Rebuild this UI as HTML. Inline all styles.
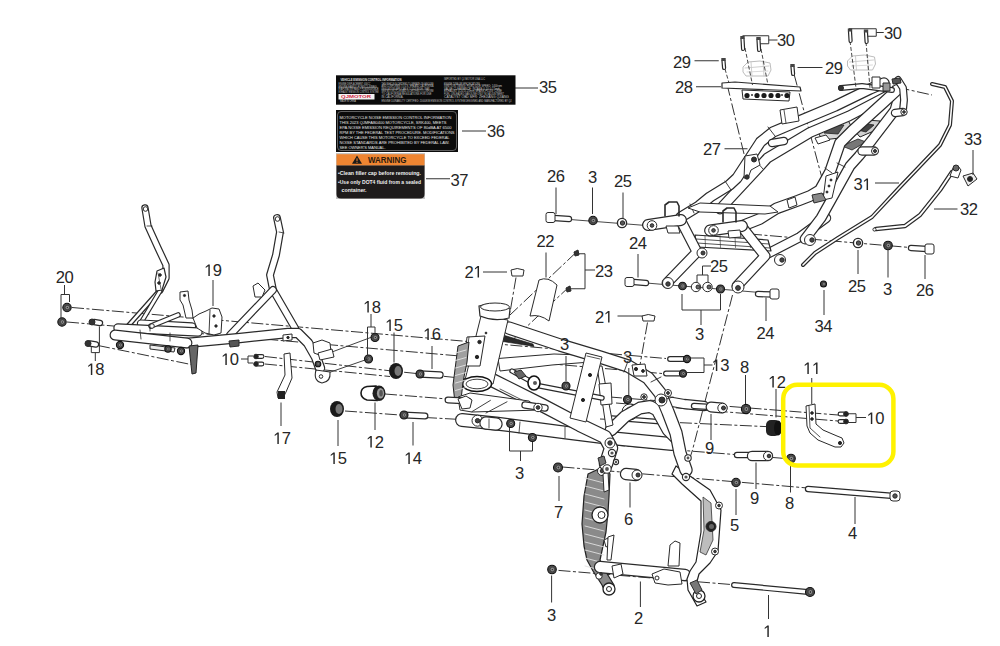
<!DOCTYPE html><html><head><meta charset="utf-8"><style>html,body{margin:0;padding:0;background:#fff;}svg{display:block}</style></head><body>
<svg width="1000" height="646" viewBox="0 0 1000 646">
<rect width="1000" height="646" fill="#fff"/>
<g fill="none" stroke="#333" stroke-width="1" stroke-dasharray="12 2.5 3 2.5">
<polyline points="72,307.5 666,358.5" fill="none" stroke="#333" stroke-width="1.0" />
<polyline points="67,322 662,373.5" fill="none" stroke="#333" stroke-width="1.0" />
<polyline points="98,345.5 191,364.5" fill="none" stroke="#333" stroke-width="1.0" />
<polyline points="265,356.5 392,371 470,379" fill="none" stroke="#333" stroke-width="1.0" />
<polyline points="265,364 390,376.5" fill="none" stroke="#333" stroke-width="1.0" />
<polyline points="385,394 460,400" fill="none" stroke="#333" stroke-width="1.0" />
<polyline points="345,411 400,415" fill="none" stroke="#333" stroke-width="1.0" />
<polyline points="425,417.5 470,420" fill="none" stroke="#333" stroke-width="1.0" />
<polyline points="516,277.5 510,312.5" fill="none" stroke="#333" stroke-width="1.0" />
<polyline points="576,252.5 510,315" fill="none" stroke="#333" stroke-width="1.0" />
<polyline points="570,286 512.5,340" fill="none" stroke="#333" stroke-width="1.0" />
<polyline points="647.5,322.5 640,365" fill="none" stroke="#333" stroke-width="1.0" />
<polyline points="732.5,295 692.5,450 686,470" fill="none" stroke="#333" stroke-width="1.0" />
<polyline points="610,397 838,415" fill="none" stroke="#333" stroke-width="1.0" />
<polyline points="616,403 838,421" fill="none" stroke="#333" stroke-width="1.0" />
<polyline points="600,419 766,426.6" fill="none" stroke="#333" stroke-width="1.0" />
<polyline points="613,445 792,459" fill="none" stroke="#333" stroke-width="1.0" />
<polyline points="562.5,467 807.5,488" fill="none" stroke="#333" stroke-width="1.0" />
<polyline points="558.5,570.4 731,584.5" fill="none" stroke="#333" stroke-width="1.0" />
<polyline points="750,234 910,247.5" fill="none" stroke="#333" stroke-width="1.0" />
<polyline points="878,83 932,95" fill="none" stroke="#333" stroke-width="1.0" />
<polyline points="727,84 745,158" fill="none" stroke="#333" stroke-width="1.0" />
<polyline points="794,74 822,178" fill="none" stroke="#333" stroke-width="1.0" />
</g>
<path d="M570,219.5 L646,225.5" fill="none" stroke="#333" stroke-width="0.9" stroke-linecap="round" stroke-linejoin="round"/>
<path d="M646,283 L760,292.5" fill="none" stroke="#333" stroke-width="0.9" stroke-linecap="round" stroke-linejoin="round"/>
<path d="M818,132 L830,122 L848,120 L852,128 L840,138 L822,140 Z" fill="#d8d8d8" stroke="#222" stroke-width="1" stroke-linejoin="round"/>
<path d="M824,133 L834,126 L844,125 L838,134 Z" fill="#555" stroke="#222" stroke-width="0.8" stroke-linejoin="round"/>
<path d="M852,128 L866,120 L880,121 L876,130 L860,137 Z" fill="#d0d0d0" stroke="#222" stroke-width="1" stroke-linejoin="round"/>
<path d="M858,130 L868,124 L874,125 L866,132 Z" fill="#444" stroke="#222" stroke-width="0.8" stroke-linejoin="round"/>
<path d="M842,146 L858,139 L866,142 L852,150 Z" fill="#777" stroke="#222" stroke-width="0.8" stroke-linejoin="round"/>
<path d="M765,255 L800,237 L826,218" fill="none" stroke="#2a2a2a" stroke-width="10.4" stroke-linecap="round" stroke-linejoin="round"/><path d="M765,255 L800,237 L826,218" fill="none" stroke="#fff" stroke-width="8" stroke-linecap="round" stroke-linejoin="round"/>
<path d="M805,239 L821,218 L835,193 L850,166 L859,156 L872,140 L895,110 L900,92" fill="none" stroke="#2a2a2a" stroke-width="10.9" stroke-linecap="round" stroke-linejoin="round"/><path d="M805,239 L821,218 L835,193 L850,166 L859,156 L872,140 L895,110 L900,92" fill="none" stroke="#fff" stroke-width="8.5" stroke-linecap="round" stroke-linejoin="round"/>
<path d="M720,209 L723,206 L759.7,166.5 L767.4,158 L810,132.5 L849,116 L891,94" fill="none" stroke="#2a2a2a" stroke-width="10.9" stroke-linecap="round" stroke-linejoin="round"/><path d="M720,209 L723,206 L759.7,166.5 L767.4,158 L810,132.5 L849,116 L891,94" fill="none" stroke="#fff" stroke-width="8.5" stroke-linecap="round" stroke-linejoin="round"/>
<path d="M681,217 L699,206 L710,197 L729.5,185 L737,178 L760.5,142 L773,132 L790.6,124.6 L835,106 L870,89 L884,83" fill="none" stroke="#2a2a2a" stroke-width="11.4" stroke-linecap="round" stroke-linejoin="round"/><path d="M681,217 L699,206 L710,197 L729.5,185 L737,178 L760.5,142 L773,132 L790.6,124.6 L835,106 L870,89 L884,83" fill="none" stroke="#fff" stroke-width="9" stroke-linecap="round" stroke-linejoin="round"/>
<path d="M772,143 L784,141" fill="none" stroke="#2a2a2a" stroke-width="8.4" stroke-linecap="round" stroke-linejoin="round"/><path d="M772,143 L784,141" fill="none" stroke="#fff" stroke-width="6" stroke-linecap="round" stroke-linejoin="round"/>
<path d="M742,226 L759.7,219 L776.7,208.3 L798.4,200.5 L810,196 L820,190 L830,172 L840,143 L852,131 L884,102 L897,90" fill="none" stroke="#2a2a2a" stroke-width="11.9" stroke-linecap="round" stroke-linejoin="round"/><path d="M742,226 L759.7,219 L776.7,208.3 L798.4,200.5 L810,196 L820,190 L830,172 L840,143 L852,131 L884,102 L897,90" fill="none" stroke="#fff" stroke-width="9.5" stroke-linecap="round" stroke-linejoin="round"/>
<path d="M898,80 L903,88 L904,100 L903,110" fill="none" stroke="#2a2a2a" stroke-width="7.9" stroke-linecap="round" stroke-linejoin="round"/><path d="M898,80 L903,88 L904,100 L903,110" fill="none" stroke="#fff" stroke-width="5.5" stroke-linecap="round" stroke-linejoin="round"/>
<path d="M725,181 L731,190" fill="none" stroke="#2a2a2a" stroke-width="0.9" stroke-linecap="round" stroke-linejoin="round"/>
<path d="M768,127 L775,136" fill="none" stroke="#2a2a2a" stroke-width="0.9" stroke-linecap="round" stroke-linejoin="round"/>
<path d="M756,161 L763,169" fill="none" stroke="#2a2a2a" stroke-width="0.9" stroke-linecap="round" stroke-linejoin="round"/>
<path d="M832,173 L825,168" fill="none" stroke="#2a2a2a" stroke-width="0.9" stroke-linecap="round" stroke-linejoin="round"/>
<path d="M837,163 L845,167" fill="none" stroke="#2a2a2a" stroke-width="0.9" stroke-linecap="round" stroke-linejoin="round"/>
<path d="M690,204 L694,213" fill="none" stroke="#2a2a2a" stroke-width="0.9" stroke-linecap="round" stroke-linejoin="round"/>
<path d="M688,208 L700,203 L770,206 L778,212 L765,214 L700,212 Z" fill="#fff" stroke="#2a2a2a" stroke-width="1" stroke-linejoin="round"/>
<path d="M695,235 L768,240 L771,251 L697,247 Z" fill="#fff" stroke="#2a2a2a" stroke-width="1.2" stroke-linejoin="round"/>
<path d="M696,239 L769,244" fill="none" stroke="#2a2a2a" stroke-width="0.8" stroke-linecap="round" stroke-linejoin="round"/><path d="M697,243 L770,248" fill="none" stroke="#2a2a2a" stroke-width="0.8" stroke-linecap="round" stroke-linejoin="round"/>
<path d="M705,236 L705.5,247.5" fill="none" stroke="#2a2a2a" stroke-width="0.6" stroke-linecap="round" stroke-linejoin="round"/>
<path d="M720,236 L720.5,247.5" fill="none" stroke="#2a2a2a" stroke-width="0.6" stroke-linecap="round" stroke-linejoin="round"/>
<path d="M735,236 L735.5,247.5" fill="none" stroke="#2a2a2a" stroke-width="0.6" stroke-linecap="round" stroke-linejoin="round"/>
<path d="M750,236 L750.5,247.5" fill="none" stroke="#2a2a2a" stroke-width="0.6" stroke-linecap="round" stroke-linejoin="round"/>
<path d="M681,221 L697,252 L667,283" fill="none" stroke="#2a2a2a" stroke-width="10.9" stroke-linecap="round" stroke-linejoin="round"/><path d="M681,221 L697,252 L667,283" fill="none" stroke="#fff" stroke-width="8.5" stroke-linecap="round" stroke-linejoin="round"/>
<path d="M742,227 L765,256 L737,286" fill="none" stroke="#2a2a2a" stroke-width="10.9" stroke-linecap="round" stroke-linejoin="round"/><path d="M742,227 L765,256 L737,286" fill="none" stroke="#fff" stroke-width="8.5" stroke-linecap="round" stroke-linejoin="round"/>
<path d="M648,225 L681,220" fill="none" stroke="#2a2a2a" stroke-width="11.9" stroke-linecap="round" stroke-linejoin="round"/><path d="M648,225 L681,220" fill="none" stroke="#fff" stroke-width="9.5" stroke-linecap="round" stroke-linejoin="round"/>
<path d="M710,230.5 L742,226" fill="none" stroke="#2a2a2a" stroke-width="11.9" stroke-linecap="round" stroke-linejoin="round"/><path d="M710,230.5 L742,226" fill="none" stroke="#fff" stroke-width="9.5" stroke-linecap="round" stroke-linejoin="round"/>
<circle cx="652" cy="225.5" r="4.8" fill="#fff" stroke="#2a2a2a" stroke-width="1"/><circle cx="652" cy="225.5" r="1.8" fill="#555" stroke="#2a2a2a" stroke-width="1"/>
<circle cx="713.5" cy="230.4" r="4.8" fill="#fff" stroke="#2a2a2a" stroke-width="1"/><circle cx="713.5" cy="230.4" r="1.8" fill="#555" stroke="#2a2a2a" stroke-width="1"/>
<path d="M666,226 L678,226 L680,233 L668,233 Z" fill="#fff" stroke="#2a2a2a" stroke-width="1" stroke-linejoin="round"/>
<path d="M728,231 L740,230 L741,237 L729,238 Z" fill="#fff" stroke="#2a2a2a" stroke-width="1" stroke-linejoin="round"/>
<path d="M665,216 L665,205 L669,202 L677,202 L679,206 L679,216" fill="none" stroke="#2a2a2a" stroke-width="1.6" stroke-linecap="round" stroke-linejoin="round"/>
<path d="M723,222 L723,211 L727,208 L734,208 L736,212 L736,222" fill="none" stroke="#2a2a2a" stroke-width="1.6" stroke-linecap="round" stroke-linejoin="round"/>
<circle cx="702" cy="253" r="5" fill="#fff" stroke="#2a2a2a" stroke-width="1"/><circle cx="703" cy="253" r="2" fill="#444" stroke="#2a2a2a" stroke-width="1"/>
<circle cx="780" cy="260" r="5.5" fill="#fff" stroke="#2a2a2a" stroke-width="1"/><circle cx="782" cy="260" r="2.2" fill="#444" stroke="#2a2a2a" stroke-width="1"/>
<circle cx="668" cy="283" r="5.5" fill="#fff" stroke="#2a2a2a" stroke-width="1"/><circle cx="668" cy="284" r="2.2" fill="#444" stroke="#2a2a2a" stroke-width="1"/>
<circle cx="738" cy="287" r="6" fill="#fff" stroke="#2a2a2a" stroke-width="1"/><circle cx="738" cy="288" r="2.4" fill="#444" stroke="#2a2a2a" stroke-width="1"/>
<circle cx="810" cy="240" r="5.5" fill="#fff" stroke="#2a2a2a" stroke-width="1"/><circle cx="812" cy="240" r="2.2" fill="#444" stroke="#2a2a2a" stroke-width="1"/>
<path d="M862,151 L874,151" fill="none" stroke="#2a2a2a" stroke-width="9.4" stroke-linecap="round" stroke-linejoin="round"/><path d="M862,151 L874,151" fill="none" stroke="#fff" stroke-width="7" stroke-linecap="round" stroke-linejoin="round"/><circle cx="875" cy="151" r="3.5" fill="#fff" stroke="#2a2a2a" stroke-width="1"/><circle cx="875" cy="151" r="1.5" fill="#444" stroke="#2a2a2a" stroke-width="1"/>
<path d="M895,113 L903,112" fill="none" stroke="#2a2a2a" stroke-width="8.4" stroke-linecap="round" stroke-linejoin="round"/><path d="M895,113 L903,112" fill="none" stroke="#fff" stroke-width="6" stroke-linecap="round" stroke-linejoin="round"/><circle cx="904" cy="112" r="3.2" fill="#fff" stroke="#2a2a2a" stroke-width="1"/><circle cx="904" cy="112" r="1.3" fill="#444" stroke="#2a2a2a" stroke-width="1"/>
<path d="M780,110 L797,107 L799,121 L782,124 Z" fill="#fff" stroke="#2a2a2a" stroke-width="1" stroke-linejoin="round"/>
<path d="M784,110 L786,123" fill="none" stroke="#2a2a2a" stroke-width="0.8" stroke-linecap="round" stroke-linejoin="round"/>
<path d="M745,156 L757,154 L760,165 L751,170 L748,178 L744,178 Z" fill="#fff" stroke="#2a2a2a" stroke-width="1" stroke-linejoin="round"/>
<circle cx="754" cy="159.5" r="2.5" fill="#333" stroke="#2a2a2a" stroke-width="1"/>
<circle cx="747" cy="177" r="2.2" fill="#333" stroke="#2a2a2a" stroke-width="1"/>
<path d="M815,138 L826,135 L830,140 L818,144 Z" fill="#fff" stroke="#2a2a2a" stroke-width="1" stroke-linejoin="round"/>
<path d="M787,200 L795,197 L797,205 L789,208 Z" fill="#fff" stroke="#2a2a2a" stroke-width="1" stroke-linejoin="round"/>
<path d="M841,88 L862,86 L892,90" fill="none" stroke="#2a2a2a" stroke-width="5.9" stroke-linecap="round" stroke-linejoin="round"/><path d="M841,88 L862,86 L892,90" fill="none" stroke="#fff" stroke-width="3.5" stroke-linecap="round" stroke-linejoin="round"/>
<circle cx="841" cy="88" r="2.5" fill="#333" stroke="#2a2a2a" stroke-width="1"/>
<path d="M872,77 L880,77 L880,88 L872,88 Z" fill="#fff" stroke="#2a2a2a" stroke-width="1" stroke-linejoin="round"/>
<path d="M892,79 L900,78 L901,83 L893,84 Z" fill="#555" stroke="#2a2a2a" stroke-width="1" stroke-linejoin="round"/>
<path d="M883,83 L890,83 L890,91 L883,91 Z" fill="#999" stroke="#2a2a2a" stroke-width="1" stroke-linejoin="round"/>
<path d="M826,176 L838,172 L832,198 L823,200 Z" fill="#fff" stroke="#2a2a2a" stroke-width="1" stroke-linejoin="round"/>
<circle cx="831" cy="180" r="1" fill="#222" stroke="#2a2a2a" stroke-width="1"/><circle cx="829" cy="186" r="1" fill="#222" stroke="#2a2a2a" stroke-width="1"/><circle cx="827" cy="192" r="1" fill="#222" stroke="#2a2a2a" stroke-width="1"/>
<path d="M812,195 L822,193 L826,200 L814,203 Z" fill="#888" stroke="#2a2a2a" stroke-width="1" stroke-linejoin="round"/>
<path d="M722,83 L735,82 L800,87 L801,91 L722,88 Z" fill="#fff" stroke="#2a2a2a" stroke-width="1.2" stroke-linejoin="round"/>
<path d="M742,90 L790,92 L789,101 L743,99 Z" fill="#fff" stroke="#2a2a2a" stroke-width="1" stroke-linejoin="round"/>
<circle cx="747" cy="95.5" r="2.6" fill="#1a1a1a" stroke="none" stroke-width="0"/>
<circle cx="757" cy="95.5" r="2.6" fill="#1a1a1a" stroke="none" stroke-width="0"/>
<circle cx="764" cy="95.5" r="2.6" fill="#1a1a1a" stroke="none" stroke-width="0"/>
<circle cx="771" cy="95.5" r="2.6" fill="#1a1a1a" stroke="none" stroke-width="0"/>
<circle cx="778" cy="95.5" r="2.6" fill="#1a1a1a" stroke="none" stroke-width="0"/>
<circle cx="787" cy="95.5" r="2.6" fill="#1a1a1a" stroke="none" stroke-width="0"/>
<circle cx="752" cy="95" r="1" fill="#333" stroke="none" stroke-width="0"/>
<circle cx="782" cy="95" r="1" fill="#333" stroke="none" stroke-width="0"/>
<path d="M743,67 L748,62 L760,61 L770,63 L771,70 L768,76 L746,76 L743,72 Z" fill="#fff" stroke="#bdbdbd" stroke-width="1" stroke-linejoin="round"/>
<path d="M745,68 L769,66" fill="none" stroke="#c8c8c8" stroke-width="0.9" stroke-linecap="round" stroke-linejoin="round"/>
<path d="M751,62 L752,76" fill="none" stroke="#c8c8c8" stroke-width="0.9" stroke-linecap="round" stroke-linejoin="round"/>
<path d="M763,61 L764,76" fill="none" stroke="#c8c8c8" stroke-width="0.9" stroke-linecap="round" stroke-linejoin="round"/>
<path d="M747,72 L768,71" fill="none" stroke="#d0d0d0" stroke-width="0.8" stroke-linecap="round" stroke-linejoin="round"/>
<path d="M847.5,61 L852.5,56 L864.5,55 L874.5,57 L875.5,64 L872.5,70 L850.5,70 L847.5,66 Z" fill="#fff" stroke="#bdbdbd" stroke-width="1" stroke-linejoin="round"/>
<path d="M849.5,62 L873.5,60" fill="none" stroke="#c8c8c8" stroke-width="0.9" stroke-linecap="round" stroke-linejoin="round"/>
<path d="M855.5,56 L856.5,70" fill="none" stroke="#c8c8c8" stroke-width="0.9" stroke-linecap="round" stroke-linejoin="round"/>
<path d="M867.5,55 L868.5,70" fill="none" stroke="#c8c8c8" stroke-width="0.9" stroke-linecap="round" stroke-linejoin="round"/>
<path d="M851.5,66 L872.5,65" fill="none" stroke="#d0d0d0" stroke-width="0.8" stroke-linecap="round" stroke-linejoin="round"/>
<path d="M745,48 L752.5,85" fill="none" stroke="#333" stroke-width="0.9" stroke-dasharray="4 2"/>
<path d="M761,49 L768,85" fill="none" stroke="#333" stroke-width="0.9" stroke-dasharray="4 2"/>
<path d="M850,41 L856,88" fill="none" stroke="#333" stroke-width="0.9" stroke-dasharray="4 2"/>
<path d="M866,42 L870,88" fill="none" stroke="#333" stroke-width="0.9" stroke-dasharray="4 2"/>
<path d="M725,69 L729,83" fill="none" stroke="#333" stroke-width="0.9" stroke-dasharray="4 2"/>
<path d="M723.5,61 L724.1,68" fill="none" stroke="#2a2a2a" stroke-width="4.2" stroke-linecap="round" stroke-linejoin="round"/><path d="M723.5,61 L724.1,68" fill="none" stroke="#fff" stroke-width="1.8" stroke-linecap="round" stroke-linejoin="round"/>
<rect x="721.3" y="58" width="4.4" height="3" fill="#444"/>
<path d="M792.5,67 L793.1,74" fill="none" stroke="#2a2a2a" stroke-width="4.2" stroke-linecap="round" stroke-linejoin="round"/><path d="M792.5,67 L793.1,74" fill="none" stroke="#fff" stroke-width="1.8" stroke-linecap="round" stroke-linejoin="round"/>
<rect x="790.3" y="64" width="4.4" height="3" fill="#444"/>
<path d="M742.5,39 L743.1,49" fill="none" stroke="#2a2a2a" stroke-width="4.2" stroke-linecap="round" stroke-linejoin="round"/><path d="M742.5,39 L743.1,49" fill="none" stroke="#fff" stroke-width="1.8" stroke-linecap="round" stroke-linejoin="round"/>
<rect x="740.3" y="36" width="4.4" height="3" fill="#444"/>
<path d="M758.5,40 L759.1,50" fill="none" stroke="#2a2a2a" stroke-width="4.2" stroke-linecap="round" stroke-linejoin="round"/><path d="M758.5,40 L759.1,50" fill="none" stroke="#fff" stroke-width="1.8" stroke-linecap="round" stroke-linejoin="round"/>
<rect x="756.3" y="37" width="4.4" height="3" fill="#444"/>
<path d="M850,31.5 L850.6,41.0" fill="none" stroke="#2a2a2a" stroke-width="4.2" stroke-linecap="round" stroke-linejoin="round"/><path d="M850,31.5 L850.6,41.0" fill="none" stroke="#fff" stroke-width="1.8" stroke-linecap="round" stroke-linejoin="round"/>
<rect x="847.8" y="28.5" width="4.4" height="3" fill="#444"/>
<path d="M866,32.5 L866.6,42.0" fill="none" stroke="#2a2a2a" stroke-width="4.2" stroke-linecap="round" stroke-linejoin="round"/><path d="M866,32.5 L866.6,42.0" fill="none" stroke="#fff" stroke-width="1.8" stroke-linecap="round" stroke-linejoin="round"/>
<rect x="863.8" y="29.5" width="4.4" height="3" fill="#444"/>
<path d="M932,84 L945,87 L952,101 L950,125 L940,145 L920,166 L899,188 L872,217 L838,238 L815,253 L803,265" fill="none" stroke="#2a2a2a" stroke-width="4.0" stroke-linecap="round" stroke-linejoin="round"/><path d="M932,84 L945,87 L952,101 L950,125 L940,145 L920,166 L899,188 L872,217 L838,238 L815,253 L803,265" fill="none" stroke="#fff" stroke-width="1.6" stroke-linecap="round" stroke-linejoin="round"/>
<path d="M876,229 L905,226 L920,215 L940,190 L952,172" fill="none" stroke="#2a2a2a" stroke-width="4.4" stroke-linecap="round" stroke-linejoin="round"/><path d="M876,229 L905,226 L920,215 L940,190 L952,172" fill="none" stroke="#fff" stroke-width="2" stroke-linecap="round" stroke-linejoin="round"/>
<circle cx="874.5" cy="229.5" r="1.6" fill="#fff" stroke="#2a2a2a" stroke-width="1"/>
<path d="M950,176 L953,168 L958,166 L961,170 L958,178 Z" fill="#fff" stroke="#2a2a2a" stroke-width="1" stroke-linejoin="round"/>
<circle cx="956" cy="168" r="3" fill="#666" stroke="#2a2a2a" stroke-width="1"/>
<path d="M963,176 L973,173 L977,179 L968,186 Z" fill="#eee" stroke="#2a2a2a" stroke-width="1" stroke-linejoin="round"/>
<circle cx="970" cy="179" r="2.5" fill="#222" stroke="#2a2a2a" stroke-width="1"/>
<circle cx="858" cy="243" r="4.6" fill="#fff" stroke="#2a2a2a" stroke-width="1.4"/><circle cx="858.5" cy="243" r="2.2" fill="#555" stroke="#2a2a2a" stroke-width="1"/>
<circle cx="888" cy="245.5" r="4.3" fill="#4a4a4a" stroke="#111" stroke-width="1.1"/><circle cx="888.4" cy="245.5" r="2.15" fill="#9a9a9a" stroke="#222" stroke-width="0.5"/><circle cx="888.4" cy="245.5" r="0.86" fill="#333" stroke="none" stroke-width="0"/>
<path d="M911,248 L927,249" fill="none" stroke="#2a2a2a" stroke-width="6.4" stroke-linecap="round" stroke-linejoin="round"/><path d="M911,248 L927,249" fill="none" stroke="#fff" stroke-width="4" stroke-linecap="round" stroke-linejoin="round"/><rect x="925" y="244" width="9" height="10" rx="2" fill="#fff" stroke="#2a2a2a"/>
<circle cx="823.5" cy="284" r="3" fill="#4a4a4a" stroke="#111" stroke-width="1.1"/><circle cx="823.9" cy="284" r="1.5" fill="#9a9a9a" stroke="#222" stroke-width="0.5"/><circle cx="823.9" cy="284" r="0.6000000000000001" fill="#333" stroke="none" stroke-width="0"/>
<path d="M554,218 L569,219" fill="none" stroke="#2a2a2a" stroke-width="6.4" stroke-linecap="round" stroke-linejoin="round"/><path d="M554,218 L569,219" fill="none" stroke="#fff" stroke-width="4" stroke-linecap="round" stroke-linejoin="round"/><rect x="546" y="212.5" width="9" height="10" rx="2" fill="#fff" stroke="#2a2a2a"/>
<circle cx="593" cy="220.5" r="4.2" fill="#4a4a4a" stroke="#111" stroke-width="1.1"/><circle cx="593.4" cy="220.5" r="2.1" fill="#9a9a9a" stroke="#222" stroke-width="0.5"/><circle cx="593.4" cy="220.5" r="0.8400000000000001" fill="#333" stroke="none" stroke-width="0"/>
<circle cx="622" cy="223" r="4.6" fill="#fff" stroke="#2a2a2a" stroke-width="1.4"/><circle cx="622.5" cy="223" r="2.2" fill="#555" stroke="#2a2a2a" stroke-width="1"/>
<path d="M634,282 L646,283" fill="none" stroke="#2a2a2a" stroke-width="6.4" stroke-linecap="round" stroke-linejoin="round"/><path d="M634,282 L646,283" fill="none" stroke="#fff" stroke-width="4" stroke-linecap="round" stroke-linejoin="round"/><rect x="625" y="277.5" width="9" height="9" rx="2" fill="#fff" stroke="#2a2a2a"/>
<circle cx="682.5" cy="286" r="3.8" fill="#4a4a4a" stroke="#111" stroke-width="1.1"/><circle cx="682.9" cy="286" r="1.9" fill="#9a9a9a" stroke="#222" stroke-width="0.5"/><circle cx="682.9" cy="286" r="0.76" fill="#333" stroke="none" stroke-width="0"/>
<circle cx="696" cy="287" r="4.7" fill="#fff" stroke="#2a2a2a" stroke-width="1"/><circle cx="698" cy="287" r="2" fill="#666" stroke="#2a2a2a" stroke-width="1"/>
<circle cx="707.5" cy="287" r="4.7" fill="#fff" stroke="#2a2a2a" stroke-width="1"/><circle cx="709" cy="287" r="2" fill="#666" stroke="#2a2a2a" stroke-width="1"/>
<circle cx="720.5" cy="289" r="4" fill="#4a4a4a" stroke="#111" stroke-width="1.1"/><circle cx="720.9" cy="289" r="2.0" fill="#9a9a9a" stroke="#222" stroke-width="0.5"/><circle cx="720.9" cy="289" r="0.8" fill="#333" stroke="none" stroke-width="0"/>
<path d="M758,294 L773,294.5" fill="none" stroke="#2a2a2a" stroke-width="6.4" stroke-linecap="round" stroke-linejoin="round"/><path d="M758,294 L773,294.5" fill="none" stroke="#fff" stroke-width="4" stroke-linecap="round" stroke-linejoin="round"/><rect x="770" y="289" width="9" height="10" rx="2" fill="#fff" stroke="#2a2a2a"/>
<path d="M462,420 L496,423.5 L566,432.6 L610,438 L672,444" fill="none" stroke="#2a2a2a" stroke-width="13.9" stroke-linecap="round" stroke-linejoin="round"/><path d="M462,420 L496,423.5 L566,432.6 L610,438 L672,444" fill="none" stroke="#fff" stroke-width="11.5" stroke-linecap="round" stroke-linejoin="round"/>
<path d="M565,427 L565,438" fill="none" stroke="#2a2a2a" stroke-width="0.8" stroke-linecap="round" stroke-linejoin="round"/><path d="M520,422 L519,433" fill="none" stroke="#2a2a2a" stroke-width="0.8" stroke-linecap="round" stroke-linejoin="round"/>
<path d="M605,466 L588,474 L584,496 L582,524 L584,546 L587,560 L593,571 L602,585 L605,592 L612,592 L614,585 L606,572 L600,560 L603,546 L606,532 L608,512 L609,496 L610,474 Z" fill="#8a8a8a" stroke="#222" stroke-width="1.2" stroke-linejoin="round"/>
<path d="M585,478 L604,483" fill="none" stroke="#e0e0e0" stroke-width="0.9" stroke-linecap="round" stroke-linejoin="round"/>
<path d="M585,486 L604,491" fill="none" stroke="#e0e0e0" stroke-width="0.9" stroke-linecap="round" stroke-linejoin="round"/>
<path d="M585,494 L604,499" fill="none" stroke="#e0e0e0" stroke-width="0.9" stroke-linecap="round" stroke-linejoin="round"/>
<path d="M585,502 L604,507" fill="none" stroke="#e0e0e0" stroke-width="0.9" stroke-linecap="round" stroke-linejoin="round"/>
<path d="M585,510 L604,515" fill="none" stroke="#e0e0e0" stroke-width="0.9" stroke-linecap="round" stroke-linejoin="round"/>
<path d="M585,518 L604,523" fill="none" stroke="#e0e0e0" stroke-width="0.9" stroke-linecap="round" stroke-linejoin="round"/>
<path d="M585,526 L604,531" fill="none" stroke="#e0e0e0" stroke-width="0.9" stroke-linecap="round" stroke-linejoin="round"/>
<path d="M585,534 L604,539" fill="none" stroke="#e0e0e0" stroke-width="0.9" stroke-linecap="round" stroke-linejoin="round"/>
<path d="M585,542 L604,547" fill="none" stroke="#e0e0e0" stroke-width="0.9" stroke-linecap="round" stroke-linejoin="round"/>
<path d="M585,550 L604,555" fill="none" stroke="#e0e0e0" stroke-width="0.9" stroke-linecap="round" stroke-linejoin="round"/>
<path d="M585,558 L604,563" fill="none" stroke="#e0e0e0" stroke-width="0.9" stroke-linecap="round" stroke-linejoin="round"/>
<path d="M585,566 L604,571" fill="none" stroke="#e0e0e0" stroke-width="0.9" stroke-linecap="round" stroke-linejoin="round"/>
<circle cx="600" cy="515" r="8" fill="#fff" stroke="#222" stroke-width="1.3"/><circle cx="601.5" cy="515" r="3.5" fill="#fff" stroke="#222" stroke-width="1"/>
<circle cx="602" cy="471" r="4.5" fill="#fff" stroke="#2a2a2a" stroke-width="1"/><circle cx="602" cy="471" r="1.8" fill="#444" stroke="#2a2a2a" stroke-width="1"/>
<circle cx="609" cy="589" r="6" fill="#fff" stroke="#222" stroke-width="1.3"/><circle cx="609" cy="589" r="2.5" fill="#fff" stroke="#222" stroke-width="1"/>
<path d="M603,474 L608,472 L609,490 L604,492 Z" fill="#fff" stroke="#2a2a2a" stroke-width="1" stroke-linejoin="round"/>
<path d="M604,540 L608,538 L610,545 L606,547 Z" fill="#fff" stroke="#2a2a2a" stroke-width="1" stroke-linejoin="round"/>
<path d="M608,537 L614,535 L611,560 L607,560 Z" fill="#fff" stroke="#2a2a2a" stroke-width="1" stroke-linejoin="round"/>
<path d="M600,567 L685,575" fill="none" stroke="#2a2a2a" stroke-width="12.4" stroke-linecap="round" stroke-linejoin="round"/><path d="M600,567 L685,575" fill="none" stroke="#fff" stroke-width="10" stroke-linecap="round" stroke-linejoin="round"/>
<path d="M676,466 L690,476 L710,490 L721,510 L718,551 L710,563 L699,574 L696,585 L706,602 L697,606 L688,590 L687,579 L690,571 L696,562 L701,532 L701,501 L682,484 L672,474 Z" fill="#fff" stroke="#222" stroke-width="1.2" stroke-linejoin="round"/>
<path d="M703,497 L711,503 L713,540 L706,555 L700,552 L704,530 Z" fill="#bdbdbd" stroke="#333" stroke-width="0.8" stroke-linejoin="round"/>
<circle cx="719" cy="505.5" r="3.5" fill="#fff" stroke="#2a2a2a" stroke-width="1"/><circle cx="719" cy="505.5" r="1.3" fill="#444" stroke="#2a2a2a" stroke-width="1"/>
<circle cx="711" cy="526.5" r="5" fill="#222" stroke="#2a2a2a" stroke-width="1"/><circle cx="711.5" cy="526.5" r="2.5" fill="#666" stroke="none" stroke-width="1"/>
<circle cx="715" cy="551.5" r="3.5" fill="#fff" stroke="#2a2a2a" stroke-width="1"/><circle cx="715" cy="551.5" r="1.3" fill="#444" stroke="#2a2a2a" stroke-width="1"/>
<circle cx="699" cy="596" r="6" fill="#fff" stroke="#222" stroke-width="1.3"/><circle cx="699" cy="596" r="2.5" fill="#fff" stroke="#222" stroke-width="1"/>
<path d="M690,583 L697,580 L702,590 L696,594 Z" fill="#777" stroke="#2a2a2a" stroke-width="1" stroke-linejoin="round"/>
<path d="M652,574 L664,569 L680,572 L682,584 L668,585 L655,583 Z" fill="#fff" stroke="#2a2a2a" stroke-width="1" stroke-linejoin="round"/>
<circle cx="657" cy="578" r="2" fill="#fff" stroke="#2a2a2a" stroke-width="1"/>
<path d="M668,566 L670,545 L675,541 L680,543 L679,566 Z" fill="#fff" stroke="#2a2a2a" stroke-width="1" stroke-linejoin="round"/>
<path d="M612,566 L621,564 L623,574 L614,578 Z" fill="#fff" stroke="#2a2a2a" stroke-width="1" stroke-linejoin="round"/>
<circle cx="599" cy="576" r="3.2" fill="#fff" stroke="#2a2a2a" stroke-width="1"/><circle cx="601" cy="574" r="1.3" fill="#444" stroke="#2a2a2a" stroke-width="1"/>
<path d="M661,400 L684,404 L704,406" fill="none" stroke="#2a2a2a" stroke-width="10.4" stroke-linecap="round" stroke-linejoin="round"/><path d="M661,400 L684,404 L704,406" fill="none" stroke="#fff" stroke-width="8" stroke-linecap="round" stroke-linejoin="round"/>
<path d="M612,418 L676,423" fill="none" stroke="#2a2a2a" stroke-width="5.4" stroke-linecap="round" stroke-linejoin="round"/><path d="M612,418 L676,423" fill="none" stroke="#fff" stroke-width="3" stroke-linecap="round" stroke-linejoin="round"/>
<circle cx="630" cy="412" r="8" fill="#fff" stroke="#2a2a2a" stroke-width="1"/><circle cx="630" cy="412" r="5" fill="#fff" stroke="#555" stroke-width="0.8"/>
<path d="M611,430 L625,416.5 L640,408 L650,406.5 L657,410 L668,430 L677,439" fill="none" stroke="#2a2a2a" stroke-width="12.9" stroke-linecap="round" stroke-linejoin="round"/><path d="M611,430 L625,416.5 L640,408 L650,406.5 L657,410 L668,430 L677,439" fill="none" stroke="#fff" stroke-width="10.5" stroke-linecap="round" stroke-linejoin="round"/>
<circle cx="644" cy="397" r="3.2" fill="#fff" stroke="#2a2a2a" stroke-width="1"/><circle cx="644" cy="397" r="1.4" fill="#444" stroke="#2a2a2a" stroke-width="1"/>
<path d="M498,358.5 L554,354 L582,355 L587,359 L584,362.5 L552,365 L500,371 Z" fill="#fff" stroke="#2a2a2a" stroke-width="1" stroke-linejoin="round"/>
<path d="M597,366 L602,366 L613,425 L606,427 Z" fill="#fff" stroke="#2a2a2a" stroke-width="1" stroke-linejoin="round"/>
<path d="M599,384 L611,383 L612,404 L601,405 Z" fill="#fff" stroke="#2a2a2a" stroke-width="1" stroke-linejoin="round"/>
<path d="M512,371 L530,381" fill="none" stroke="#2a2a2a" stroke-width="5.4" stroke-linecap="round" stroke-linejoin="round"/><path d="M512,371 L530,381" fill="none" stroke="#fff" stroke-width="3" stroke-linecap="round" stroke-linejoin="round"/><path d="M540,386 L602,398" fill="none" stroke="#2a2a2a" stroke-width="5.4" stroke-linecap="round" stroke-linejoin="round"/><path d="M540,386 L602,398" fill="none" stroke="#fff" stroke-width="3" stroke-linecap="round" stroke-linejoin="round"/>
<ellipse cx="534" cy="383" rx="6" ry="7" fill="#fff" stroke="#111" stroke-width="1.6"/><circle cx="535" cy="383" r="2" fill="#555"/>
<path d="M514,372 L521,370 L526,376 L519,379 Z" fill="#666" stroke="#2a2a2a" stroke-width="1" stroke-linejoin="round"/>
<path d="M492,380 L542,405 L580,425 L605,437 L611,448 L606,464" fill="none" stroke="#2a2a2a" stroke-width="14.4" stroke-linecap="round" stroke-linejoin="round"/><path d="M492,380 L542,405 L580,425 L605,437 L611,448 L606,464" fill="none" stroke="#fff" stroke-width="12" stroke-linecap="round" stroke-linejoin="round"/>
<path d="M500,389 L540,409" fill="none" stroke="#2a2a2a" stroke-width="0.8" stroke-linecap="round" stroke-linejoin="round"/>
<path d="M509,328 L560,345 L600,357 L628,366 L648,378 L660,393 L668,412 L676,433 L680,453 L686,470" fill="none" stroke="#2a2a2a" stroke-width="13.4" stroke-linecap="round" stroke-linejoin="round"/><path d="M509,328 L560,345 L600,357 L628,366 L648,378 L660,393 L668,412 L676,433 L680,453 L686,470" fill="none" stroke="#fff" stroke-width="11" stroke-linecap="round" stroke-linejoin="round"/>
<path d="M628,361 L624,372" fill="none" stroke="#2a2a2a" stroke-width="0.9" stroke-linecap="round" stroke-linejoin="round"/><path d="M651,382 L661,377" fill="none" stroke="#2a2a2a" stroke-width="0.9" stroke-linecap="round" stroke-linejoin="round"/><path d="M663,400 L673,397" fill="none" stroke="#2a2a2a" stroke-width="0.9" stroke-linecap="round" stroke-linejoin="round"/>
<path d="M503,335 L533,344 L534,346.5 L503,341.5 Z" fill="#2a2a2a" stroke="#111" stroke-width="0.6" stroke-linejoin="round"/>
<path d="M586,353 L602,357 L586,422 L570,418 Z" fill="#fff" stroke="#2a2a2a" stroke-width="1" stroke-linejoin="round"/>
<circle cx="590" cy="375" r="1.6" fill="#222" stroke="#2a2a2a" stroke-width="1"/><circle cx="583" cy="400" r="1.6" fill="#222" stroke="#2a2a2a" stroke-width="1"/>
<path d="M587,356 L600,359" fill="none" stroke="#2a2a2a" stroke-width="0.8" stroke-linecap="round" stroke-linejoin="round"/>
<circle cx="610" cy="443" r="5" fill="#fff" stroke="#2a2a2a" stroke-width="1"/><circle cx="610" cy="443" r="2.2" fill="#444" stroke="#2a2a2a" stroke-width="1"/>
<circle cx="612" cy="453" r="3.6" fill="#fff" stroke="#2a2a2a" stroke-width="1.1"/><circle cx="612" cy="453" r="1.62" fill="#555" stroke="none" stroke-width="0"/>
<circle cx="607" cy="469" r="4.2" fill="#fff" stroke="#2a2a2a" stroke-width="1.1"/><circle cx="607" cy="469" r="1.8900000000000001" fill="#555" stroke="none" stroke-width="0"/>
<circle cx="688" cy="458" r="3.2" fill="#fff" stroke="#2a2a2a" stroke-width="1.1"/><circle cx="688" cy="458" r="1.4400000000000002" fill="#555" stroke="none" stroke-width="0"/>
<circle cx="686" cy="477" r="3.6" fill="#fff" stroke="#2a2a2a" stroke-width="1.1"/><circle cx="686" cy="477" r="1.62" fill="#555" stroke="none" stroke-width="0"/>
<circle cx="616" cy="462" r="2.6" fill="#fff" stroke="#2a2a2a" stroke-width="1.1"/><circle cx="616" cy="462" r="1.1700000000000002" fill="#555" stroke="none" stroke-width="0"/>
<path d="M598,458 L604,456 L606,463 L600,466 Z" fill="#777" stroke="#2a2a2a" stroke-width="1" stroke-linejoin="round"/>
<circle cx="661" cy="400" r="6" fill="#fff" stroke="#2a2a2a" stroke-width="1"/><circle cx="662" cy="400" r="3" fill="#333" stroke="#2a2a2a" stroke-width="1"/>
<circle cx="668" cy="393" r="3.5" fill="#fff" stroke="#2a2a2a" stroke-width="1"/><circle cx="668" cy="393" r="1.4" fill="#444" stroke="#2a2a2a" stroke-width="1"/>
<path d="M481,316 L508,320 L493,384 L465,380 Z" fill="#fff" stroke="#2a2a2a" stroke-width="1" stroke-linejoin="round"/>
<ellipse cx="477" cy="384" rx="14.5" ry="7.5" fill="#fff" stroke="#111" stroke-width="1.5"/>
<ellipse cx="477" cy="384" rx="11" ry="4.8" fill="#fff" stroke="#2a2a2a" stroke-width="0.9"/>
<path d="M479,306 Q494,301 510,309 L509,318 Q494,322 480,316 Z" fill="#fff" stroke="#2a2a2a" stroke-width="1.2"/>
<ellipse cx="495" cy="307" rx="14.5" ry="4" fill="#fff" stroke="#2a2a2a" stroke-width="1"/>
<circle cx="486" cy="333" r="0.9" fill="#222" stroke="#2a2a2a" stroke-width="1"/><circle cx="478" cy="359" r="0.9" fill="#222" stroke="#2a2a2a" stroke-width="1"/>
<path d="M467,337 L485,336 L480,366 L464,366 Z" fill="#fff" stroke="#2a2a2a" stroke-width="1" stroke-linejoin="round"/>
<path d="M469,337 L465,366" fill="none" stroke="#2a2a2a" stroke-width="0.8" stroke-linecap="round" stroke-linejoin="round"/>
<circle cx="479.5" cy="342" r="1.7" fill="#222" stroke="#2a2a2a" stroke-width="1"/><circle cx="477" cy="357" r="1.7" fill="#222" stroke="#2a2a2a" stroke-width="1"/>
<path d="M458,346 L469,342 L467,362 L463,382 L461,400 L455,403 L453,385 Z" fill="#a0a0a0" stroke="#222" stroke-width="1" stroke-linejoin="round"/>
<path d="M455.5,353.0 L466,350.0" fill="none" stroke="#eee" stroke-width="0.8" stroke-linecap="round" stroke-linejoin="round"/>
<path d="M455.5,360.5 L466,357.5" fill="none" stroke="#eee" stroke-width="0.8" stroke-linecap="round" stroke-linejoin="round"/>
<path d="M455.5,368.0 L466,365.0" fill="none" stroke="#eee" stroke-width="0.8" stroke-linecap="round" stroke-linejoin="round"/>
<path d="M455.5,375.5 L466,372.5" fill="none" stroke="#eee" stroke-width="0.8" stroke-linecap="round" stroke-linejoin="round"/>
<path d="M455.5,383.0 L466,380.0" fill="none" stroke="#eee" stroke-width="0.8" stroke-linecap="round" stroke-linejoin="round"/>
<path d="M455.5,390.5 L466,387.5" fill="none" stroke="#eee" stroke-width="0.8" stroke-linecap="round" stroke-linejoin="round"/>
<path d="M455.5,398.0 L466,395.0" fill="none" stroke="#eee" stroke-width="0.8" stroke-linecap="round" stroke-linejoin="round"/>
<path d="M458,397 L470,393 L529,401 L540,410 L472,412 L460,410 Z" fill="#fff" stroke="#2a2a2a" stroke-width="1" stroke-linejoin="round"/>
<path d="M472,411.6 L490.4,400.4" fill="none" stroke="#2a2a2a" stroke-width="0.9" stroke-linecap="round" stroke-linejoin="round"/><path d="M486,413 L507,401.8" fill="none" stroke="#2a2a2a" stroke-width="0.9" stroke-linecap="round" stroke-linejoin="round"/>
<path d="M448,400 L468,401" fill="none" stroke="#2a2a2a" stroke-width="6.9" stroke-linecap="round" stroke-linejoin="round"/><path d="M448,400 L468,401" fill="none" stroke="#fff" stroke-width="4.5" stroke-linecap="round" stroke-linejoin="round"/>
<path d="M458,399 L466,396 L472,400 L470,408 L462,409 Z" fill="#fff" stroke="#2a2a2a" stroke-width="1" stroke-linejoin="round"/>
<circle cx="477.5" cy="420.7" r="5.5" fill="#fff" stroke="#2a2a2a" stroke-width="1"/><circle cx="477.5" cy="420.7" r="2.2" fill="#444" stroke="#2a2a2a" stroke-width="1"/>
<path d="M486,423 L496,424" fill="none" stroke="#2a2a2a" stroke-width="13.4" stroke-linecap="round" stroke-linejoin="round"/><path d="M486,423 L496,424" fill="none" stroke="#fff" stroke-width="11" stroke-linecap="round" stroke-linejoin="round"/>
<path d="M489,419 L489,428" fill="none" stroke="#2a2a2a" stroke-width="0.8" stroke-linecap="round" stroke-linejoin="round"/>
<path d="M525,405 L545,408" fill="none" stroke="#2a2a2a" stroke-width="7.4" stroke-linecap="round" stroke-linejoin="round"/><path d="M525,405 L545,408" fill="none" stroke="#fff" stroke-width="5" stroke-linecap="round" stroke-linejoin="round"/>
<circle cx="538" cy="407.5" r="4.2" fill="#fff" stroke="#2a2a2a" stroke-width="1"/><circle cx="538" cy="407.5" r="1.8" fill="#444" stroke="#2a2a2a" stroke-width="1"/>
<circle cx="510.7" cy="423.5" r="4" fill="#4a4a4a" stroke="#111" stroke-width="1.1"/><circle cx="511.09999999999997" cy="423.5" r="2.0" fill="#9a9a9a" stroke="#222" stroke-width="0.5"/><circle cx="511.09999999999997" cy="423.5" r="0.8" fill="#333" stroke="none" stroke-width="0"/>
<circle cx="532.4" cy="437.5" r="4" fill="#4a4a4a" stroke="#111" stroke-width="1.1"/><circle cx="532.8" cy="437.5" r="2.0" fill="#9a9a9a" stroke="#222" stroke-width="0.5"/><circle cx="532.8" cy="437.5" r="0.8" fill="#333" stroke="none" stroke-width="0"/>
<circle cx="566" cy="386" r="4" fill="#4a4a4a" stroke="#111" stroke-width="1.1"/><circle cx="566.4" cy="386" r="2.0" fill="#9a9a9a" stroke="#222" stroke-width="0.5"/><circle cx="566.4" cy="386" r="0.8" fill="#333" stroke="none" stroke-width="0"/>
<circle cx="627.5" cy="399.5" r="4" fill="#4a4a4a" stroke="#111" stroke-width="1.1"/><circle cx="627.9" cy="399.5" r="2.0" fill="#9a9a9a" stroke="#222" stroke-width="0.5"/><circle cx="627.9" cy="399.5" r="0.8" fill="#333" stroke="none" stroke-width="0"/>
<path d="M574,252 L578,250 L579,255 L575,256 Z" fill="#333" stroke="#2a2a2a" stroke-width="1" stroke-linejoin="round"/><path d="M566,288 L570,286 L571,291 L567,292 Z" fill="#333" stroke="#2a2a2a" stroke-width="1" stroke-linejoin="round"/>
<path d="M539,280 Q548,276 557,285 L549,321 Q540,314 530,316 Z" fill="#fff" stroke="#2a2a2a" stroke-width="1"/>
<path d="M511,270 Q517,267 524,270 L523,276 L512,276 Z" fill="#fff" stroke="#2a2a2a"/>
<path d="M642,316 Q648,313 655,316 L654,321 L643,321 Z" fill="#fff" stroke="#2a2a2a"/>
<path d="M632,365 L645,364 L647,376 L634,376 Z" fill="#fff" stroke="#2a2a2a" stroke-width="1" stroke-linejoin="round"/>
<circle cx="636" cy="369" r="1.6" fill="#222" stroke="#2a2a2a" stroke-width="1"/><circle cx="643" cy="371" r="1.4" fill="#222" stroke="#2a2a2a" stroke-width="1"/>
<path d="M670,359 L685,359" fill="none" stroke="#2a2a2a" stroke-width="5.9" stroke-linecap="round" stroke-linejoin="round"/><path d="M670,359 L685,359" fill="none" stroke="#fff" stroke-width="3.5" stroke-linecap="round" stroke-linejoin="round"/><circle cx="687" cy="359" r="3.6" fill="#4a4a4a" stroke="#111" stroke-width="1.1"/><circle cx="687.4" cy="359" r="1.8" fill="#9a9a9a" stroke="#222" stroke-width="0.5"/><circle cx="687.4" cy="359" r="0.7200000000000001" fill="#333" stroke="none" stroke-width="0"/>
<path d="M666,373.5 L681,373.5" fill="none" stroke="#2a2a2a" stroke-width="5.9" stroke-linecap="round" stroke-linejoin="round"/><path d="M666,373.5 L681,373.5" fill="none" stroke="#fff" stroke-width="3.5" stroke-linecap="round" stroke-linejoin="round"/><circle cx="683" cy="373.5" r="3.6" fill="#4a4a4a" stroke="#111" stroke-width="1.1"/><circle cx="683.4" cy="373.5" r="1.8" fill="#9a9a9a" stroke="#222" stroke-width="0.5"/><circle cx="683.4" cy="373.5" r="0.7200000000000001" fill="#333" stroke="none" stroke-width="0"/>
<path d="M694,406 L711,407" fill="none" stroke="#2a2a2a" stroke-width="6.4" stroke-linecap="round" stroke-linejoin="round"/><path d="M694,406 L711,407" fill="none" stroke="#fff" stroke-width="4" stroke-linecap="round" stroke-linejoin="round"/>
<path d="M711,407 L722,408" fill="none" stroke="#2a2a2a" stroke-width="10.9" stroke-linecap="round" stroke-linejoin="round"/><path d="M711,407 L722,408" fill="none" stroke="#fff" stroke-width="8.5" stroke-linecap="round" stroke-linejoin="round"/>
<circle cx="722.5" cy="408" r="4.7" fill="#fff" stroke="#2a2a2a" stroke-width="1"/><circle cx="723.5" cy="408" r="2" fill="#444" stroke="#2a2a2a" stroke-width="1"/>
<circle cx="746" cy="409" r="4.6" fill="#4a4a4a" stroke="#111" stroke-width="1.1"/><circle cx="746.4" cy="409" r="2.3" fill="#9a9a9a" stroke="#222" stroke-width="0.5"/><circle cx="746.4" cy="409" r="0.9199999999999999" fill="#333" stroke="none" stroke-width="0"/>
<rect x="766" y="420" width="14" height="16" rx="5" fill="#222"/>
<ellipse cx="778" cy="428" rx="4" ry="7.5" fill="#111"/>
<path d="M737,455 L752,455" fill="none" stroke="#2a2a2a" stroke-width="6.4" stroke-linecap="round" stroke-linejoin="round"/><path d="M737,455 L752,455" fill="none" stroke="#fff" stroke-width="4" stroke-linecap="round" stroke-linejoin="round"/><path d="M752,456 L768,456" fill="none" stroke="#2a2a2a" stroke-width="10.4" stroke-linecap="round" stroke-linejoin="round"/><path d="M752,456 L768,456" fill="none" stroke="#fff" stroke-width="8" stroke-linecap="round" stroke-linejoin="round"/>
<circle cx="768" cy="456" r="4.5" fill="#fff" stroke="#2a2a2a" stroke-width="1"/><circle cx="769" cy="456" r="1.8" fill="#444" stroke="#2a2a2a" stroke-width="1"/>
<circle cx="791" cy="458.5" r="4.3" fill="#4a4a4a" stroke="#111" stroke-width="1.1"/><circle cx="791.4" cy="458.5" r="2.15" fill="#9a9a9a" stroke="#222" stroke-width="0.5"/><circle cx="791.4" cy="458.5" r="0.86" fill="#333" stroke="none" stroke-width="0"/>
<circle cx="736" cy="482.5" r="4.2" fill="#4a4a4a" stroke="#111" stroke-width="1.1"/><circle cx="736.4" cy="482.5" r="2.1" fill="#9a9a9a" stroke="#222" stroke-width="0.5"/><circle cx="736.4" cy="482.5" r="0.8400000000000001" fill="#333" stroke="none" stroke-width="0"/>
<circle cx="558" cy="467.5" r="4.5" fill="#4a4a4a" stroke="#111" stroke-width="1.1"/><circle cx="558.4" cy="467.5" r="2.25" fill="#9a9a9a" stroke="#222" stroke-width="0.5"/><circle cx="558.4" cy="467.5" r="0.9" fill="#333" stroke="none" stroke-width="0"/>
<path d="M626,474 L636,475" fill="none" stroke="#2a2a2a" stroke-width="12.4" stroke-linecap="round" stroke-linejoin="round"/><path d="M626,474 L636,475" fill="none" stroke="#fff" stroke-width="10" stroke-linecap="round" stroke-linejoin="round"/><circle cx="637" cy="475" r="5" fill="#fff" stroke="#2a2a2a" stroke-width="1"/><circle cx="638" cy="475" r="2" fill="#444" stroke="#2a2a2a" stroke-width="1"/>
<path d="M808,489 L894,496" fill="none" stroke="#2a2a2a" stroke-width="6.4" stroke-linecap="round" stroke-linejoin="round"/><path d="M808,489 L894,496" fill="none" stroke="#fff" stroke-width="4" stroke-linecap="round" stroke-linejoin="round"/>
<rect x="890" y="491" width="10" height="10" rx="3" fill="#fff" stroke="#2a2a2a"/>
<circle cx="895" cy="496" r="2.2" fill="#555" stroke="#2a2a2a" stroke-width="1"/>
<path d="M734,585 L808,592" fill="none" stroke="#2a2a2a" stroke-width="5.9" stroke-linecap="round" stroke-linejoin="round"/><path d="M734,585 L808,592" fill="none" stroke="#fff" stroke-width="3.5" stroke-linecap="round" stroke-linejoin="round"/>
<circle cx="810" cy="592" r="4.5" fill="#4a4a4a" stroke="#111" stroke-width="1.1"/><circle cx="810.4" cy="592" r="2.25" fill="#9a9a9a" stroke="#222" stroke-width="0.5"/><circle cx="810.4" cy="592" r="0.9" fill="#333" stroke="none" stroke-width="0"/>
<circle cx="552" cy="569.5" r="4.3" fill="#4a4a4a" stroke="#111" stroke-width="1.1"/><circle cx="552.4" cy="569.5" r="2.15" fill="#9a9a9a" stroke="#222" stroke-width="0.5"/><circle cx="552.4" cy="569.5" r="0.86" fill="#333" stroke="none" stroke-width="0"/>
<path d="M806,406 L815,404 L816,424 L823,430 L837,436 L842,438 L844,443 L841,447 L835,447 L818,440 L810,433 L807,426 Z" fill="#fff" stroke="#2a2a2a" stroke-width="1" stroke-linejoin="round"/>
<path d="M809,406 L810,428 L820,437" fill="none" stroke="#2a2a2a" stroke-width="0.8" stroke-linecap="round" stroke-linejoin="round"/>
<circle cx="812" cy="413" r="1.3" fill="#222" stroke="#2a2a2a" stroke-width="1"/><circle cx="812" cy="419" r="1.3" fill="#222" stroke="#2a2a2a" stroke-width="1"/><circle cx="840" cy="443" r="1.6" fill="#222" stroke="#2a2a2a" stroke-width="1"/>
<path d="M840,414 L844,414" fill="none" stroke="#2a2a2a" stroke-width="4.9" stroke-linecap="round" stroke-linejoin="round"/><path d="M840,414 L844,414" fill="none" stroke="#fff" stroke-width="2.5" stroke-linecap="round" stroke-linejoin="round"/><circle cx="846" cy="414" r="2.4" fill="#222" stroke="#2a2a2a" stroke-width="1"/>
<path d="M840,421.5 L844,421.5" fill="none" stroke="#2a2a2a" stroke-width="4.9" stroke-linecap="round" stroke-linejoin="round"/><path d="M840,421.5 L844,421.5" fill="none" stroke="#fff" stroke-width="2.5" stroke-linecap="round" stroke-linejoin="round"/><circle cx="846" cy="421.5" r="2.4" fill="#222" stroke="#2a2a2a" stroke-width="1"/>
<ellipse cx="396" cy="371" rx="7" ry="8" fill="#1a1a1a"/><ellipse cx="398" cy="371" rx="3.5" ry="5" fill="#777"/>
<path d="M420,374 L440,375" fill="none" stroke="#2a2a2a" stroke-width="7.4" stroke-linecap="round" stroke-linejoin="round"/><path d="M420,374 L440,375" fill="none" stroke="#fff" stroke-width="5" stroke-linecap="round" stroke-linejoin="round"/><circle cx="420" cy="374" r="4" fill="#4a4a4a" stroke="#111" stroke-width="1.1"/><circle cx="420.4" cy="374" r="2.0" fill="#9a9a9a" stroke="#222" stroke-width="0.5"/><circle cx="420.4" cy="374" r="0.8" fill="#333" stroke="none" stroke-width="0"/>
<path d="M376,386 L367,386.5 Q361,388 361,393 Q361,398 367,400 L377,400.5 Z" fill="#fff" stroke="#1a1a1a" stroke-width="1.6"/>
<ellipse cx="379" cy="393.3" rx="6.5" ry="7.8" fill="#1e1e1e"/><ellipse cx="380.5" cy="393.3" rx="3.6" ry="5.2" fill="#9a9a9a"/><ellipse cx="381" cy="393.3" rx="1.8" ry="3.2" fill="#555"/>
<ellipse cx="337" cy="409" rx="7" ry="8" fill="#1a1a1a"/><ellipse cx="339" cy="409" rx="3.5" ry="5" fill="#777"/>
<path d="M404,415 L425,416" fill="none" stroke="#2a2a2a" stroke-width="6.9" stroke-linecap="round" stroke-linejoin="round"/><path d="M404,415 L425,416" fill="none" stroke="#fff" stroke-width="4.5" stroke-linecap="round" stroke-linejoin="round"/><circle cx="404" cy="415" r="4" fill="#4a4a4a" stroke="#111" stroke-width="1.1"/><circle cx="404.4" cy="415" r="2.0" fill="#9a9a9a" stroke="#222" stroke-width="0.5"/><circle cx="404.4" cy="415" r="0.8" fill="#333" stroke="none" stroke-width="0"/>
<circle cx="375" cy="337.5" r="4" fill="#4a4a4a" stroke="#111" stroke-width="1.1"/><circle cx="375.4" cy="337.5" r="2.0" fill="#9a9a9a" stroke="#222" stroke-width="0.5"/><circle cx="375.4" cy="337.5" r="0.8" fill="#333" stroke="none" stroke-width="0"/>
<circle cx="368.5" cy="359" r="4" fill="#4a4a4a" stroke="#111" stroke-width="1.1"/><circle cx="368.9" cy="359" r="2.0" fill="#9a9a9a" stroke="#222" stroke-width="0.5"/><circle cx="368.9" cy="359" r="0.8" fill="#333" stroke="none" stroke-width="0"/>
<path d="M332,352 L372,337" fill="none" stroke="#2a2a2a" stroke-width="0.9" stroke-linecap="round" stroke-linejoin="round"/>
<path d="M322,375 L368,359" fill="none" stroke="#2a2a2a" stroke-width="0.9" stroke-linecap="round" stroke-linejoin="round"/>
<path d="M145,208 L148,226 L158,248 L166,265 L166,278 L160,290" fill="none" stroke="#2a2a2a" stroke-width="7.4" stroke-linecap="round" stroke-linejoin="round"/><path d="M145,208 L148,226 L158,248 L166,265 L166,278 L160,290" fill="none" stroke="#fff" stroke-width="5" stroke-linecap="round" stroke-linejoin="round"/>
<path d="M160,290 L128,326" fill="none" stroke="#2a2a2a" stroke-width="5.0" stroke-linecap="round" stroke-linejoin="round"/><path d="M160,290 L128,326" fill="none" stroke="#fff" stroke-width="2.6" stroke-linecap="round" stroke-linejoin="round"/>
<path d="M160,291 L142,321" fill="none" stroke="#2a2a2a" stroke-width="5.0" stroke-linecap="round" stroke-linejoin="round"/><path d="M160,291 L142,321" fill="none" stroke="#fff" stroke-width="2.6" stroke-linecap="round" stroke-linejoin="round"/>
<path d="M277,218 L280,232 L276,255 L270,275 L273,290 L295,328" fill="none" stroke="#2a2a2a" stroke-width="7.9" stroke-linecap="round" stroke-linejoin="round"/><path d="M277,218 L280,232 L276,255 L270,275 L273,290 L295,328" fill="none" stroke="#fff" stroke-width="5.5" stroke-linecap="round" stroke-linejoin="round"/>
<path d="M273,290 L230,335" fill="none" stroke="#2a2a2a" stroke-width="7.9" stroke-linecap="round" stroke-linejoin="round"/><path d="M273,290 L230,335" fill="none" stroke="#fff" stroke-width="5.5" stroke-linecap="round" stroke-linejoin="round"/>
<circle cx="145.5" cy="209" r="2.3" fill="#fff" stroke="#2a2a2a" stroke-width="1"/>
<circle cx="277.5" cy="219" r="2.3" fill="#fff" stroke="#2a2a2a" stroke-width="1"/>
<path d="M147,226 L152,226" fill="none" stroke="#2a2a2a" stroke-width="0.8" stroke-linecap="round" stroke-linejoin="round"/><path d="M279,232 L284,233" fill="none" stroke="#2a2a2a" stroke-width="0.8" stroke-linecap="round" stroke-linejoin="round"/>
<path d="M157,271 L164,268 L166,277 L162,290 L156,291 L155,282 Z" fill="#fff" stroke="#2a2a2a" stroke-width="1.2" stroke-linejoin="round"/>
<circle cx="160" cy="275" r="1.3" fill="#222" stroke="#2a2a2a" stroke-width="1"/><circle cx="159" cy="283" r="1.3" fill="#222" stroke="#2a2a2a" stroke-width="1"/>
<path d="M158,273 L161,289" fill="none" stroke="#2a2a2a" stroke-width="0.7" stroke-linecap="round" stroke-linejoin="round"/>
<path d="M253,286 L258,283 L265,290 L262,297 L255,297 Z" fill="#fff" stroke="#2a2a2a" stroke-width="1" stroke-linejoin="round"/>
<path d="M141,323.6 L192,326.4" fill="none" stroke="#2a2a2a" stroke-width="8.4" stroke-linecap="round" stroke-linejoin="round"/><path d="M141,323.6 L192,326.4" fill="none" stroke="#fff" stroke-width="6" stroke-linecap="round" stroke-linejoin="round"/>
<path d="M118,328 L198,332" fill="none" stroke="#2a2a2a" stroke-width="9.4" stroke-linecap="round" stroke-linejoin="round"/><path d="M118,328 L198,332" fill="none" stroke="#fff" stroke-width="7" stroke-linecap="round" stroke-linejoin="round"/>
<path d="M186,343 L240,338 L288,333 L298,333 L308,343 L316,357 L320,368" fill="none" stroke="#2a2a2a" stroke-width="10.4" stroke-linecap="round" stroke-linejoin="round"/><path d="M186,343 L240,338 L288,333 L298,333 L308,343 L316,357 L320,368" fill="none" stroke="#fff" stroke-width="8" stroke-linecap="round" stroke-linejoin="round"/>
<path d="M115,335 L187,343" fill="none" stroke="#2a2a2a" stroke-width="10.9" stroke-linecap="round" stroke-linejoin="round"/><path d="M115,335 L187,343" fill="none" stroke="#fff" stroke-width="8.5" stroke-linecap="round" stroke-linejoin="round"/>
<path d="M140,330 L141,339" fill="none" stroke="#2a2a2a" stroke-width="0.8" stroke-linecap="round" stroke-linejoin="round"/><path d="M170,333 L170,341" fill="none" stroke="#2a2a2a" stroke-width="0.8" stroke-linecap="round" stroke-linejoin="round"/><path d="M150,331 L150,325" fill="none" stroke="#2a2a2a" stroke-width="0.8" stroke-linecap="round" stroke-linejoin="round"/>
<path d="M180,292 L188,291 L189,300 L192,310 L193,318 L186,318 L183,305 L180,300 Z" fill="#fff" stroke="#2a2a2a" stroke-width="1" stroke-linejoin="round"/>
<circle cx="184.5" cy="295.5" r="1.1" fill="#222" stroke="#2a2a2a" stroke-width="1"/>
<path d="M193,318 L199,314 L206,311 L212,308 L219,309 L222,317 L221,333 L214,335 L205,333 L197,328 Z" fill="#fff" stroke="#2a2a2a" stroke-width="1" stroke-linejoin="round"/>
<path d="M210,310 L209,334" fill="none" stroke="#2a2a2a" stroke-width="0.9" stroke-linecap="round" stroke-linejoin="round"/>
<circle cx="214" cy="316" r="1.2" fill="#222" stroke="#2a2a2a" stroke-width="1"/><circle cx="216" cy="326" r="1.2" fill="#222" stroke="#2a2a2a" stroke-width="1"/>
<path d="M151,326 L178,315" fill="none" stroke="#2a2a2a" stroke-width="5.6" stroke-linecap="round" stroke-linejoin="round"/><path d="M151,326 L178,315" fill="none" stroke="#fff" stroke-width="3.2" stroke-linecap="round" stroke-linejoin="round"/>
<circle cx="152" cy="326" r="2.3" fill="#fff" stroke="#2a2a2a" stroke-width="1"/>
<path d="M189,346 L198,345 L196,373 L192,374 Z" fill="#666" stroke="#222" stroke-width="1" stroke-linejoin="round"/>
<path d="M150,345 L175,348 L174,352 L150,349 Z" fill="#eee" stroke="#2a2a2a" stroke-width="1" stroke-linejoin="round"/>
<path d="M313,343 L322,340 L330,343 L331,352 L322,356 L314,353 Z" fill="#fff" stroke="#2a2a2a" stroke-width="1" stroke-linejoin="round"/>
<path d="M318,353 L332,349 L334,357 L320,360 Z" fill="#fff" stroke="#2a2a2a" stroke-width="1" stroke-linejoin="round"/>
<path d="M316,370 Q313,381 322,383 Q331,382 330,372 Z" fill="#fff" stroke="#2a2a2a" stroke-width="1.1"/>
<circle cx="321" cy="376.5" r="1.8" fill="#fff" stroke="#2a2a2a" stroke-width="1"/>
<circle cx="318" cy="364" r="2.8" fill="#4a4a4a" stroke="#111" stroke-width="1.1"/><circle cx="318.4" cy="364" r="1.4" fill="#9a9a9a" stroke="#222" stroke-width="0.5"/><circle cx="318.4" cy="364" r="0.5599999999999999" fill="#333" stroke="none" stroke-width="0"/>
<path d="M229,341 L239,340 L239,346 L230,347 Z" fill="#555" stroke="#2a2a2a" stroke-width="1" stroke-linejoin="round"/>
<path d="M283,335 L292,334 L292,340 L283,341 Z" fill="#fff" stroke="#2a2a2a" stroke-width="1" stroke-linejoin="round"/>
<circle cx="288" cy="337.5" r="1.2" fill="#222" stroke="#2a2a2a" stroke-width="1"/>
<circle cx="120" cy="345" r="3.6" fill="#4a4a4a" stroke="#111" stroke-width="1.1"/><circle cx="120.4" cy="345" r="1.8" fill="#9a9a9a" stroke="#222" stroke-width="0.5"/><circle cx="120.4" cy="345" r="0.7200000000000001" fill="#333" stroke="none" stroke-width="0"/>
<circle cx="168" cy="349" r="3.2" fill="#4a4a4a" stroke="#111" stroke-width="1.1"/><circle cx="168.4" cy="349" r="1.6" fill="#9a9a9a" stroke="#222" stroke-width="0.5"/><circle cx="168.4" cy="349" r="0.6400000000000001" fill="#333" stroke="none" stroke-width="0"/>
<circle cx="181" cy="351" r="3.6" fill="#4a4a4a" stroke="#111" stroke-width="1.1"/><circle cx="181.4" cy="351" r="1.8" fill="#9a9a9a" stroke="#222" stroke-width="0.5"/><circle cx="181.4" cy="351" r="0.7200000000000001" fill="#333" stroke="none" stroke-width="0"/>
<circle cx="67" cy="307.5" r="4.2" fill="#4a4a4a" stroke="#111" stroke-width="1.1"/><circle cx="67.4" cy="307.5" r="2.1" fill="#9a9a9a" stroke="#222" stroke-width="0.5"/><circle cx="67.4" cy="307.5" r="0.8400000000000001" fill="#333" stroke="none" stroke-width="0"/>
<circle cx="62" cy="322" r="4.2" fill="#4a4a4a" stroke="#111" stroke-width="1.1"/><circle cx="62.4" cy="322" r="2.1" fill="#9a9a9a" stroke="#222" stroke-width="0.5"/><circle cx="62.4" cy="322" r="0.8400000000000001" fill="#333" stroke="none" stroke-width="0"/>
<path d="M94,322 L100,323" fill="none" stroke="#2a2a2a" stroke-width="6.4" stroke-linecap="round" stroke-linejoin="round"/><path d="M94,322 L100,323" fill="none" stroke="#fff" stroke-width="4" stroke-linecap="round" stroke-linejoin="round"/><circle cx="92" cy="322" r="3" fill="#333" stroke="#2a2a2a" stroke-width="1"/>
<path d="M90,343.5 L96,344.5" fill="none" stroke="#2a2a2a" stroke-width="6.4" stroke-linecap="round" stroke-linejoin="round"/><path d="M90,343.5 L96,344.5" fill="none" stroke="#fff" stroke-width="4" stroke-linecap="round" stroke-linejoin="round"/><circle cx="88" cy="343.5" r="3" fill="#333" stroke="#2a2a2a" stroke-width="1"/>
<path d="M257,356.5 L262,356.5" fill="none" stroke="#2a2a2a" stroke-width="4.9" stroke-linecap="round" stroke-linejoin="round"/><path d="M257,356.5 L262,356.5" fill="none" stroke="#fff" stroke-width="2.5" stroke-linecap="round" stroke-linejoin="round"/><circle cx="256" cy="356.5" r="2.3" fill="#222" stroke="#2a2a2a" stroke-width="1"/>
<path d="M257,364 L262,364" fill="none" stroke="#2a2a2a" stroke-width="4.9" stroke-linecap="round" stroke-linejoin="round"/><path d="M257,364 L262,364" fill="none" stroke="#fff" stroke-width="2.5" stroke-linecap="round" stroke-linejoin="round"/><circle cx="256" cy="364" r="2.3" fill="#222" stroke="#2a2a2a" stroke-width="1"/>
<path d="M284,354 L290,353 L292,378 L286,392 L283,398 L278,398 L277,392 L285,375 Z" fill="#fff" stroke="#2a2a2a" stroke-width="1" stroke-linejoin="round"/>
<rect x="278" y="391" width="7" height="8" fill="#222"/>
<g fill="none" stroke="#333" stroke-width="1">
<polyline points="64.5,285 64.5,294.5" fill="none" stroke="#333" stroke-width="1.0" />
<polyline points="61,318 61,294.5 69.5,294.5 69.5,302" fill="none" stroke="#333" stroke-width="1.0" />
<polyline points="95.3,352.6 95.3,361" fill="none" stroke="#333" stroke-width="1.0" />
<polyline points="91.3,346.5 91.3,352.6 99.4,352.6 99.4,326.4" fill="none" stroke="#333" stroke-width="1.0" />
<polyline points="213,280 213,306" fill="none" stroke="#333" stroke-width="1.0" />
<polyline points="241,359 248,359" fill="none" stroke="#333" stroke-width="1.0" />
<polyline points="253,356 248,356 248,363 253,363" fill="none" stroke="#333" stroke-width="1.0" />
<polyline points="281,402.5 281,426" fill="none" stroke="#333" stroke-width="1.0" />
<polyline points="371,314 371,327" fill="none" stroke="#333" stroke-width="1.0" />
<polyline points="367.5,356 367.5,327 375,327 375,335" fill="none" stroke="#333" stroke-width="1.0" />
<polyline points="394,332.5 394,362.5" fill="none" stroke="#333" stroke-width="1.0" />
<polyline points="432,346 432,369" fill="none" stroke="#333" stroke-width="1.0" />
<polyline points="375,402.5 375,430" fill="none" stroke="#333" stroke-width="1.0" />
<polyline points="338,420 338,446" fill="none" stroke="#333" stroke-width="1.0" />
<polyline points="413,422 413,445.5" fill="none" stroke="#333" stroke-width="1.0" />
<polyline points="483,272 507,272" fill="none" stroke="#333" stroke-width="1.0" />
<polyline points="546,252.5 546,277.5" fill="none" stroke="#333" stroke-width="1.0" />
<polyline points="577.5,253.75 585,253.75 585,288.75 570,288.75" fill="none" stroke="#333" stroke-width="1.0" />
<polyline points="585,270 595,270" fill="none" stroke="#333" stroke-width="1.0" />
<polyline points="617.5,316 642.5,316" fill="none" stroke="#333" stroke-width="1.0" />
<polyline points="566,356 566,381" fill="none" stroke="#333" stroke-width="1.0" />
<polyline points="628.8,368 628.8,395" fill="none" stroke="#333" stroke-width="1.0" />
<polyline points="509.5,428 509.5,451 532.5,451 532.5,442" fill="none" stroke="#333" stroke-width="1.0" />
<polyline points="520.5,451 520.5,461" fill="none" stroke="#333" stroke-width="1.0" />
<polyline points="556,187.5 556,214" fill="none" stroke="#333" stroke-width="1.0" />
<polyline points="592.5,187.5 592.5,214" fill="none" stroke="#333" stroke-width="1.0" />
<polyline points="623,192.5 623,219" fill="none" stroke="#333" stroke-width="1.0" />
<polyline points="638,254 638,277.5" fill="none" stroke="#333" stroke-width="1.0" />
<polyline points="697,282.5 697,275 708,275 708,282.5" fill="none" stroke="#333" stroke-width="1.0" />
<polyline points="702.5,275 702.5,266 711,266" fill="none" stroke="#333" stroke-width="1.0" />
<polyline points="682,294 682,310 720.5,310 720.5,294" fill="none" stroke="#333" stroke-width="1.0" />
<polyline points="701,310 701,325" fill="none" stroke="#333" stroke-width="1.0" />
<polyline points="766,297.5 766,321" fill="none" stroke="#333" stroke-width="1.0" />
<polyline points="824,290 824,315" fill="none" stroke="#333" stroke-width="1.0" />
<polyline points="858,250 858,274" fill="none" stroke="#333" stroke-width="1.0" />
<polyline points="888,250 888,277.5" fill="none" stroke="#333" stroke-width="1.0" />
<polyline points="925,255 925,279" fill="none" stroke="#333" stroke-width="1.0" />
<polyline points="687.5,358 704,358 704,372.5 685,372.5" fill="none" stroke="#333" stroke-width="1.0" />
<polyline points="704,365 712.5,365" fill="none" stroke="#333" stroke-width="1.0" />
<polyline points="745.5,375 745.5,404" fill="none" stroke="#333" stroke-width="1.0" />
<polyline points="776,389 776,417.5" fill="none" stroke="#333" stroke-width="1.0" />
<polyline points="811.75,378 811.75,404" fill="none" stroke="#333" stroke-width="1.0" />
<polyline points="847.5,413.75 856,413.75 856,422.5 847.5,422.5" fill="none" stroke="#333" stroke-width="1.0" />
<polyline points="856,417.5 866,417.5" fill="none" stroke="#333" stroke-width="1.0" />
<polyline points="711,414 711,440" fill="none" stroke="#333" stroke-width="1.0" />
<polyline points="756,462.5 756,489" fill="none" stroke="#333" stroke-width="1.0" />
<polyline points="790.5,461 790.5,492.5" fill="none" stroke="#333" stroke-width="1.0" />
<polyline points="559,476 559,501" fill="none" stroke="#333" stroke-width="1.0" />
<polyline points="630,482.5 630,507.5" fill="none" stroke="#333" stroke-width="1.0" />
<polyline points="736,489 736,515" fill="none" stroke="#333" stroke-width="1.0" />
<polyline points="855,497 855,524" fill="none" stroke="#333" stroke-width="1.0" />
<polyline points="551.6,575.5 551.6,602.5" fill="none" stroke="#333" stroke-width="1.0" />
<polyline points="640.4,581.5 640.4,607" fill="none" stroke="#333" stroke-width="1.0" />
<polyline points="768.5,595 768.5,619" fill="none" stroke="#333" stroke-width="1.0" />
<polyline points="742.5,35.75 768.75,35.75 768.75,43.75 760,43.75" fill="none" stroke="#333" stroke-width="1.0" />
<polyline points="768.75,40 777.5,40" fill="none" stroke="#333" stroke-width="1.0" />
<polyline points="848.75,28.75 876.25,28.75 876.25,36.25 867.5,36.25" fill="none" stroke="#333" stroke-width="1.0" />
<polyline points="876.25,32.5 883.75,32.5" fill="none" stroke="#333" stroke-width="1.0" />
<polyline points="694.5,60.75 718.75,60.75" fill="none" stroke="#333" stroke-width="1.0" />
<polyline points="797.5,67.5 822.5,67.5" fill="none" stroke="#333" stroke-width="1.0" />
<polyline points="696,86.75 721,86.75" fill="none" stroke="#333" stroke-width="1.0" />
<polyline points="724.5,148.75 747.5,148.75" fill="none" stroke="#333" stroke-width="1.0" />
<polyline points="973,150 973,175" fill="none" stroke="#333" stroke-width="1.0" />
<polyline points="875,183 899,183" fill="none" stroke="#333" stroke-width="1.0" />
<polyline points="934,209 957.5,209" fill="none" stroke="#333" stroke-width="1.0" />
<polyline points="515,88 538,88" fill="none" stroke="#333" stroke-width="1.0" />
<polyline points="462,131 486,131" fill="none" stroke="#333" stroke-width="1.0" />
<polyline points="426,178.75 450,178.75" fill="none" stroke="#333" stroke-width="1.0" />
</g>
<g font-family="Liberation Sans" font-size="16.6" fill="#262626">
<text x="55.70" y="282.5">2</text>
<text x="64.43" y="282.5">0</text>
<path d="M90.85,363.50 h1.45 v11.5 h-1.45 Z M90.85,363.50 L91.80,364.60 L88.20,367.10 L88.20,365.80 Z"/>
<text x="95.33" y="375.0">8</text>
<path d="M208.35,264.50 h1.45 v11.5 h-1.45 Z M208.35,264.50 L209.30,265.60 L205.70,268.10 L205.70,266.80 Z"/>
<text x="212.83" y="276.0">9</text>
<path d="M225.35,353.50 h1.45 v11.5 h-1.45 Z M225.35,353.50 L226.30,354.60 L222.70,357.10 L222.70,355.80 Z"/>
<text x="229.83" y="365.0">0</text>
<path d="M277.35,432.50 h1.45 v11.5 h-1.45 Z M277.35,432.50 L278.30,433.60 L274.70,436.10 L274.70,434.80 Z"/>
<text x="281.83" y="444.0">7</text>
<path d="M367.35,301.00 h1.45 v11.5 h-1.45 Z M367.35,301.00 L368.30,302.10 L364.70,304.60 L364.70,303.30 Z"/>
<text x="371.83" y="312.5">8</text>
<path d="M389.35,319.50 h1.45 v11.5 h-1.45 Z M389.35,319.50 L390.30,320.60 L386.70,323.10 L386.70,321.80 Z"/>
<text x="393.83" y="331.0">5</text>
<path d="M427.35,328.50 h1.45 v11.5 h-1.45 Z M427.35,328.50 L428.30,329.60 L424.70,332.10 L424.70,330.80 Z"/>
<text x="431.83" y="340.0">6</text>
<path d="M370.35,436.00 h1.45 v11.5 h-1.45 Z M370.35,436.00 L371.30,437.10 L367.70,439.60 L367.70,438.30 Z"/>
<text x="374.83" y="447.5">2</text>
<path d="M333.35,452.50 h1.45 v11.5 h-1.45 Z M333.35,452.50 L334.30,453.60 L330.70,456.10 L330.70,454.80 Z"/>
<text x="337.83" y="464.0">5</text>
<path d="M408.35,452.50 h1.45 v11.5 h-1.45 Z M408.35,452.50 L409.30,453.60 L405.70,456.10 L405.70,454.80 Z"/>
<text x="412.83" y="464.0">4</text>
<text x="464.60" y="277.5">2</text>
<path d="M477.58,266.00 h1.45 v11.5 h-1.45 Z M477.58,266.00 L478.53,267.10 L474.93,269.60 L474.93,268.30 Z"/>
<text x="536.60" y="247.0">2</text>
<text x="545.33" y="247.0">2</text>
<text x="595.10" y="277.0">2</text>
<text x="603.83" y="277.0">3</text>
<text x="595.10" y="322.5">2</text>
<path d="M608.08,311.00 h1.45 v11.5 h-1.45 Z M608.08,311.00 L609.03,312.10 L605.43,314.60 L605.43,313.30 Z"/>
<text x="560.10" y="350.0">3</text>
<text x="623.10" y="362.5">3</text>
<text x="515.10" y="479.0">3</text>
<text x="547.10" y="181.8">2</text>
<text x="555.83" y="181.8">6</text>
<text x="588.10" y="183.0">3</text>
<text x="614.10" y="187.0">2</text>
<text x="622.83" y="187.0">5</text>
<text x="629.10" y="249.0">2</text>
<text x="637.83" y="249.0">4</text>
<text x="710.10" y="272.0">2</text>
<text x="718.83" y="272.0">5</text>
<text x="695.10" y="340.0">3</text>
<text x="756.60" y="339.0">2</text>
<text x="765.33" y="339.0">4</text>
<text x="814.60" y="332.0">3</text>
<text x="823.33" y="332.0">4</text>
<text x="848.10" y="291.6">2</text>
<text x="856.83" y="291.6">5</text>
<text x="883.10" y="294.5">3</text>
<text x="916.10" y="296.0">2</text>
<text x="924.83" y="296.0">6</text>
<path d="M715.85,359.50 h1.45 v11.5 h-1.45 Z M715.85,359.50 L716.80,360.60 L713.20,363.10 L713.20,361.80 Z"/>
<text x="720.33" y="371.0">3</text>
<text x="740.10" y="372.5">8</text>
<path d="M807.35,362.50 h1.45 v11.5 h-1.45 Z M807.35,362.50 L808.30,363.60 L804.70,366.10 L804.70,364.80 Z"/>
<path d="M816.08,362.50 h1.45 v11.5 h-1.45 Z M816.08,362.50 L817.03,363.60 L813.43,366.10 L813.43,364.80 Z"/>
<path d="M772.35,376.00 h1.45 v11.5 h-1.45 Z M772.35,376.00 L773.30,377.10 L769.70,379.60 L769.70,378.30 Z"/>
<text x="776.83" y="387.5">2</text>
<path d="M870.85,412.50 h1.45 v11.5 h-1.45 Z M870.85,412.50 L871.80,413.60 L868.20,416.10 L868.20,414.80 Z"/>
<text x="875.33" y="424.0">0</text>
<text x="705.10" y="454.0">9</text>
<text x="750.10" y="504.0">9</text>
<text x="785.10" y="509.0">8</text>
<text x="554.10" y="518.0">7</text>
<text x="624.10" y="524.5">6</text>
<text x="730.10" y="531.0">5</text>
<text x="848.10" y="539.0">4</text>
<text x="547.10" y="620.5">3</text>
<text x="634.10" y="623.5">2</text>
<path d="M767.35,625.50 h1.45 v11.5 h-1.45 Z M767.35,625.50 L768.30,626.60 L764.70,629.10 L764.70,627.80 Z"/>
<text x="777.10" y="46.0">3</text>
<text x="785.83" y="46.0">0</text>
<text x="884.10" y="39.0">3</text>
<text x="892.83" y="39.0">0</text>
<text x="673.10" y="67.5">2</text>
<text x="681.83" y="67.5">9</text>
<text x="825.10" y="74.0">2</text>
<text x="833.83" y="74.0">9</text>
<text x="675.10" y="92.5">2</text>
<text x="683.83" y="92.5">8</text>
<text x="703.10" y="155.0">2</text>
<text x="711.83" y="155.0">7</text>
<text x="964.10" y="144.5">3</text>
<text x="972.83" y="144.5">3</text>
<text x="853.60" y="190.0">3</text>
<path d="M866.58,178.50 h1.45 v11.5 h-1.45 Z M866.58,178.50 L867.53,179.60 L863.93,182.10 L863.93,180.80 Z"/>
<text x="960.10" y="214.5">3</text>
<text x="968.83" y="214.5">2</text>
<text x="539.10" y="93.0">3</text>
<text x="547.83" y="93.0">5</text>
<text x="487.10" y="137.3">3</text>
<text x="495.83" y="137.3">6</text>
<text x="450.60" y="185.5">3</text>
<text x="459.33" y="185.5">7</text>
</g>
<rect x="336" y="75.3" width="179.5" height="29.4" fill="#0a0a0a"/>
<g font-family="Liberation Sans" fill="#c8c8c8" font-size="2.7">
<text x="340.5" y="81" textLength="61" lengthAdjust="spacingAndGlyphs" font-size="3" fill="#e0e0e0" font-weight="bold">VEHICLE EMISSION CONTROL INFORMATION</text>
<text x="444" y="80.3" textLength="41" lengthAdjust="spacingAndGlyphs" font-size="2.7">IMPORTED BY QJ MOTOR USA LLC</text>
<text x="338.5" y="85.0" textLength="32" lengthAdjust="spacingAndGlyphs" font-size="2.7">ENGINE DISPLACEMENT: 400CC</text>
<text x="338.5" y="87.55" textLength="38" lengthAdjust="spacingAndGlyphs" font-size="2.7">ENGINE FAMILY: PQMXC0.40NBG</text>
<text x="338.5" y="90.1" textLength="40" lengthAdjust="spacingAndGlyphs" font-size="2.7">EVAPORATIVE FAMILY: PQMXR0095MCB</text>
<text x="338.5" y="92.65" textLength="40" lengthAdjust="spacingAndGlyphs" font-size="2.7">EXHAUST EMISSION CONTROL SYSTEM</text>
<text x="381.5" y="84.5" textLength="52" lengthAdjust="spacingAndGlyphs" font-size="2.7">THIS VEHICLE IS CERTIFIED TO OPERATE ON GASOLINE</text>
<text x="381.5" y="87.15" textLength="52" lengthAdjust="spacingAndGlyphs" font-size="2.7">AND CONFORMS TO U.S. EPA AND CALIFORNIA</text>
<text x="381.5" y="89.8" textLength="48" lengthAdjust="spacingAndGlyphs" font-size="2.7">REGULATIONS APPLICABLE TO 2023 MODEL YEAR</text>
<text x="381.5" y="92.45" textLength="52" lengthAdjust="spacingAndGlyphs" font-size="2.7">NEW MOTORCYCLES AND IS CERTIFIED TO CONFORM</text>
<text x="381.5" y="95.1" textLength="50" lengthAdjust="spacingAndGlyphs" font-size="2.7">TO CALIFORNIA REGULATIONS FOR USE</text>
<text x="381.5" y="97.75" textLength="22" lengthAdjust="spacingAndGlyphs" font-size="2.7">IN CALIFORNIA.</text>
<text x="444" y="84.8" textLength="36" lengthAdjust="spacingAndGlyphs" font-size="2.7">ENGINE TUNE-UP SPECIFICATIONS</text>
<text x="444" y="87.35" textLength="58" lengthAdjust="spacingAndGlyphs" font-size="2.7">IGNITION TIMING: FIXED     IDLE SPEED: 1400rpm</text>
<text x="444" y="89.89999999999999" textLength="56" lengthAdjust="spacingAndGlyphs" font-size="2.7">VALVE CLEARANCE:  INTAKE 0.10-0.15mm</text>
<text x="444" y="92.45" textLength="58" lengthAdjust="spacingAndGlyphs" font-size="2.7">EXHAUST 0.20-0.25mm  SPARK PLUG: CR8E</text>
<text x="444" y="95.0" textLength="60" lengthAdjust="spacingAndGlyphs" font-size="2.7">FUEL: UNLEADED GASOLINE ONLY  NO ADJUSTMENT</text>
<text x="444" y="97.55" textLength="65" lengthAdjust="spacingAndGlyphs" font-size="2.7">CATALYST   OBD   MFR: ZHEJIANG QJIANG</text>
<text x="381.5" y="102" textLength="130" lengthAdjust="spacingAndGlyphs" font-size="2.7">ENGINE DURABILITY CERTIFIED: 20000KM   EMISSION CONTROL SYSTEM DESIGNED AND MANUFACTURED BY QJ</text>
<text x="340" y="102.3" textLength="16" lengthAdjust="spacingAndGlyphs" font-size="2.7">MADE IN CHINA</text>
</g>
<rect x="338.5" y="94" width="36" height="5.5" fill="#f2f2f2"/>
<text x="341" y="98.4" font-family="Liberation Sans" font-weight="bold" font-size="4.4" fill="#d4243b" textLength="30" lengthAdjust="spacingAndGlyphs">QJMOTOR</text>
<rect x="336" y="110" width="122" height="42" fill="#0b0b0b"/>
<rect x="337.5" y="111.5" width="119" height="39" rx="3.5" fill="none" stroke="#9a9a9a" stroke-width="0.6"/>
<g font-family="Liberation Sans" font-size="4.3" fill="#e6e6e6">
<text x="339.5" y="118.60" textLength="112" lengthAdjust="spacingAndGlyphs">MOTORCYCLE NOISE EMISSION CONTROL INFORMATION</text>
<text x="339.5" y="123.68" textLength="107" lengthAdjust="spacingAndGlyphs">THIS 2023 QJMFAB0400 MOTORCYCLE, SRK400, MEETS</text>
<text x="339.5" y="128.76" textLength="112" lengthAdjust="spacingAndGlyphs">EPA NOISE EMISSION REQUIREMENTS OF 80dBA AT 6500</text>
<text x="339.5" y="133.84" textLength="115" lengthAdjust="spacingAndGlyphs">RPM BY THE FEDERAL TEST PROCEDURE. MODIFICATIONS</text>
<text x="339.5" y="138.92" textLength="110" lengthAdjust="spacingAndGlyphs">WHICH CAUSE THIS MOTORCYCLE TO EXCEED FEDERAL</text>
<text x="339.5" y="144.00" textLength="110" lengthAdjust="spacingAndGlyphs">NOISE STANDARDS ARE PROHIBITED BY FEDERAL LAW.</text>
<text x="339.5" y="149.08" textLength="46" lengthAdjust="spacingAndGlyphs">SEE OWNER'S MANUAL.</text>
</g>
<rect x="336" y="153" width="89" height="46" fill="#c4c4c4"/>
<path d="M336.5,165.3 H424.5 V194 Q424.5,198.5 420,198.5 H341 Q336.5,198.5 336.5,194 Z" fill="#1e1b1b"/>
<rect x="336.5" y="154.2" width="88" height="11.1" fill="#ee8532"/>
<path d="M357,155.6 L352,163.8 H362 Z" fill="#1a1a1a"/><rect x="356.5" y="158.3" width="1" height="3" fill="#ee8532"/><rect x="356.5" y="162" width="1" height="0.9" fill="#ee8532"/>
<text x="368" y="163.3" font-family="Liberation Sans" font-weight="bold" font-size="8.8" fill="#2b1a0e" textLength="38.5" lengthAdjust="spacingAndGlyphs">WARNING</text>
<g font-family="Liberation Sans" font-weight="bold" font-size="5.2" fill="#efefef">
<text x="338" y="175.4" textLength="83" lengthAdjust="spacingAndGlyphs">•Clean filler cap before remouing.</text>
<text x="338" y="183.7" textLength="83" lengthAdjust="spacingAndGlyphs">•Use only DOT4 fluid from a sealed</text>
<text x="341.6" y="192.4" textLength="25" lengthAdjust="spacingAndGlyphs">container.</text>
</g>
<rect x="783.2" y="384.8" width="110.2" height="80.6" rx="14" ry="14" fill="none" stroke="#fff200" stroke-width="4.5"/>
</svg></body></html>
